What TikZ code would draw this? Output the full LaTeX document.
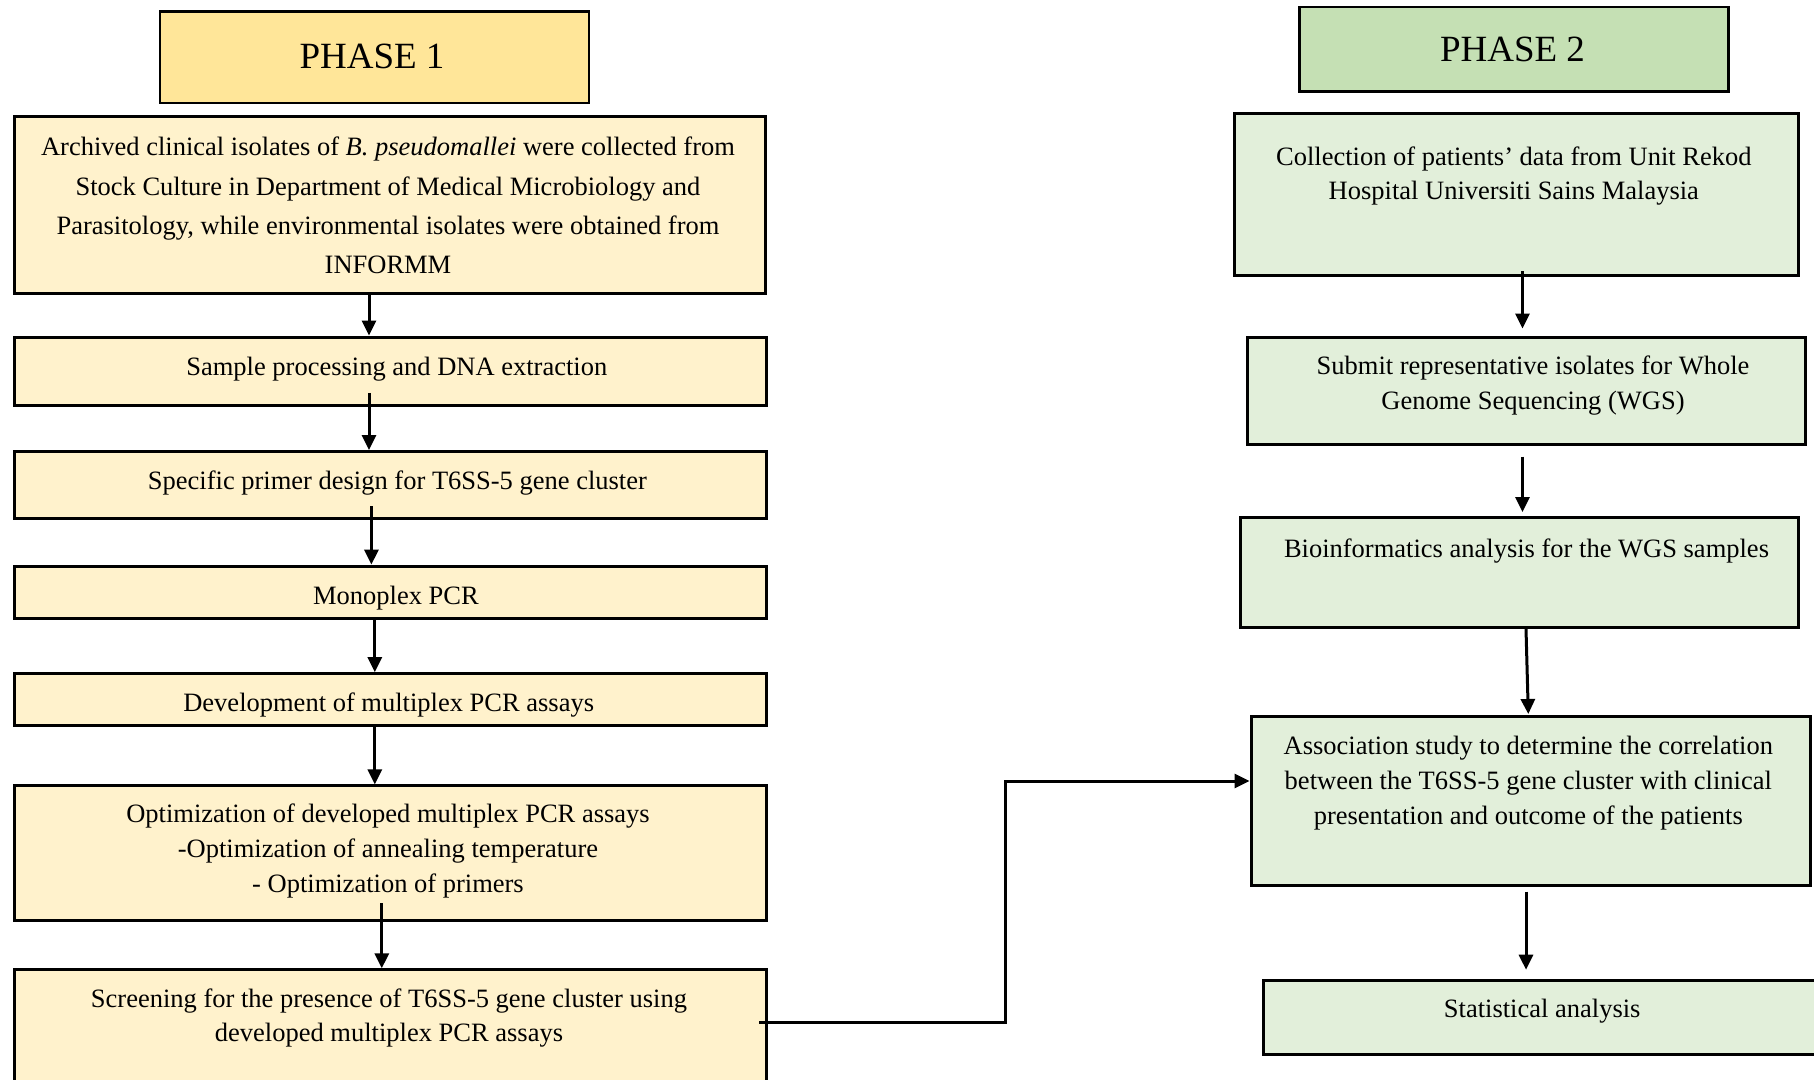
\documentclass[tikz,border=0pt]{standalone}
\usepackage{fontspec}
\setmainfont{Liberation Serif}
\usetikzlibrary{arrows.meta,calc}
\definecolor{titleA}{HTML}{FFE699}
\definecolor{boxA}{HTML}{FFF2CC}
\definecolor{titleB}{HTML}{C5E0B4}
\definecolor{boxB}{HTML}{E2EFDA}
\begin{document}
\begin{tikzpicture}[x=1pt,y=-1pt,
  box/.style={draw=black, line width=3pt, inner sep=0pt, anchor=north west},
  titlebox/.style={box, line width=2.5pt},
  txt/.style={font=\fontsize{26.5}{34.7}\selectfont, align=center, inner sep=0pt},
  wtxt/.style={font=\fontsize{26.5}{39.3}\selectfont, align=center, inner sep=0pt},
  ttl/.style={font=\fontsize{37}{44}\selectfont, inner sep=0pt},
  arr/.style={line width=3pt, -{Triangle[length=15pt,width=14pt]}},
  conn/.style={line width=3pt}]
\useasboundingbox (0,0) rectangle (1814,1079);
\clip (0,0) rectangle (1814,1079);
% Phase 1
\node[titlebox, fill=titleA, minimum width=429.2pt, minimum height=91.4pt] (T1) at (158.5,10.4) {};
\node[ttl] (tT1) at (372,56.5) {PHASE 1};
\node[box, fill=boxA, minimum width=751pt, minimum height=177pt] (A1) at (12.7,114.5) {};
\node[box, fill=boxA, minimum width=752pt, minimum height=68.3pt] (A2) at (12.7,335.5) {};
\node[box, fill=boxA, minimum width=752pt, minimum height=67.1pt] (A3) at (12.7,450) {};
\node[box, fill=boxA, minimum width=752pt, minimum height=52pt] (A4) at (12.7,564.6) {};
\node[box, fill=boxA, minimum width=752pt, minimum height=52pt] (A5) at (12.7,672.2) {};
\node[box, fill=boxA, minimum width=752pt, minimum height=134.2pt] (A6) at (12.7,784.4) {};
\node[box, fill=boxA, minimum width=752pt, minimum height=140pt] (A7) at (12.7,968.3) {};
\node[wtxt] (tA1) at (388,205.5) {Archived clinical isolates of \textit{B. pseudomallei} were collected from\\Stock Culture in Department of Medical Microbiology and\\Parasitology, while environmental isolates were obtained from\\INFORMM};
\node[txt] (tA2) at (396.8,369) {Sample processing and DNA extraction};
\node[txt] (tA3) at (397.4,483.5) {Specific primer design for T6SS-5 gene cluster};
\node[txt] (tA4) at (396,598) {Monoplex PCR};
\node[txt] (tA5) at (388.7,705.5) {Development of multiplex PCR assays};
\node[txt] (tA6) at (388,851) {Optimization of developed multiplex PCR assays\\-Optimization of annealing temperature\\- Optimization of primers};
\node[txt] (tA7) at (389,1018) {Screening for the presence of T6SS-5 gene cluster using\\developed multiplex PCR assays};
% Phase 2
\node[titlebox, fill=titleB, minimum width=429.3pt, minimum height=84.4pt] (T2) at (1298,5.8) {};
\node[ttl] (tT2) at (1512.5,49.5) {PHASE 2};
\node[box, fill=boxB, minimum width=563.4pt, minimum height=162pt] (B1) at (1233.3,112.2) {};
\node[box, fill=boxB, minimum width=557.6pt, minimum height=107.6pt] (B2) at (1246,335.5) {};
\node[box, fill=boxB, minimum width=557.7pt, minimum height=109.9pt] (B3) at (1239,516) {};
\node[box, fill=boxB, minimum width=559pt, minimum height=169pt] (B4) at (1249.5,715) {};
\node[box, fill=boxB, minimum width=600pt, minimum height=74.3pt] (B5) at (1262,978.7) {};
\node[txt] (tB1) at (1513.8,176) {Collection of patients’ data from Unit Rekod\\Hospital Universiti Sains Malaysia};
\node[txt] (tB2) at (1533,385.5) {Submit representative isolates for Whole\\Genome Sequencing (WGS)};
\node[txt] (tB3) at (1526.5,551.5) {Bioinformatics analysis for the WGS samples};
\node[txt] (tB4) at (1528.3,783) {Association study to determine the correlation\\between the T6SS-5 gene cluster with clinical\\presentation and outcome of the patients};
\node[txt] (tB5) at (1542.2,1011.5) {Statistical analysis};
% Phase 1 arrows
\draw[arr] (369,0 |- A1.south) -- (369,0 |- A2.north);
\draw[arr] ($(369,0 |- A2.south)+(0,-14)$) -- (369,0 |- A3.north);
\draw[arr] ($(371.4,0 |- A3.south)+(0,-14)$) -- (371.4,0 |- A4.north);
\draw[arr] (374.8,0 |- A4.south) -- (374.8,0 |- A5.north);
\draw[arr] (374.8,0 |- A5.south) -- (374.8,0 |- A6.north);
\draw[arr] ($(381.8,0 |- A6.south)+(0,-18.6)$) -- (381.8,0 |- A7.north);
% Phase 2 arrows
\draw[arr] ($(1522.5,0 |- B1.south)+(0,-6)$) -- ($(1522.5,0 |- B2.north)+(0,-7)$);
\draw[arr] ($(1522.5,0 |- B2.south)+(0,10.4)$) -- ($(1522.5,0 |- B3.north)+(0,-4)$);
\draw[arr] (1526,0 |- B3.south) -- ($(1528.3,0 |- B4.north)+(0,-1)$);
\draw[arr] ($(1526,0 |- B4.south)+(0,4.6)$) -- ($(1526,0 |- B5.north)+(0,-9)$);
% Cross connector
\coordinate (c0) at ($(759,0 |- A7.north)+(0,54.4)$);
\draw[arr] (c0) -- (1005.3,0 |- c0) -- (1005.3,781) -- (B4.west |- 0,781);
\end{tikzpicture}
\end{document}
